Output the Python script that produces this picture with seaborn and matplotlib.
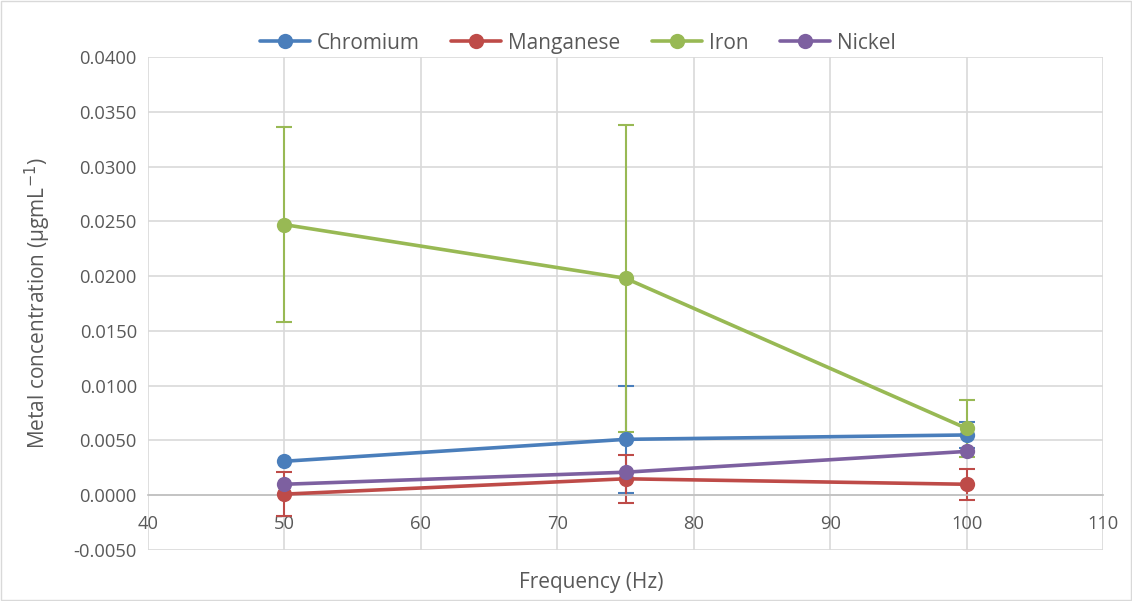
import matplotlib
matplotlib.use("Agg")
import matplotlib.pyplot as plt
import seaborn as sns
import pandas as pd
import numpy as np

frequency = [50, 75, 100]
metals = ["Chromium", "Manganese", "Iron", "Nickel"]
chromium = [0.0031, 0.0051, 0.0055]
chromium_err = [0.0, 0.0049, 0.0012]
manganese = [0.0001, 0.0015, 0.0010]
manganese_err = [0.0020, 0.0022, 0.0014]
iron = [0.0247, 0.0198, 0.0061]
iron_err = [0.0089, 0.0140, 0.0026]
nickel = [0.0010, 0.0021, 0.0040]
nickel_err = [0.0, 0.0, 0.0]

colors = ["#4A7EBB", "#BE4B48", "#98B954", "#7D60A0"]

values = {"Chromium": chromium, "Manganese": manganese, "Iron": iron, "Nickel": nickel}
errors = {"Chromium": chromium_err, "Manganese": manganese_err, "Iron": iron_err, "Nickel": nickel_err}

rows = []
for m in metals:
    for f, v, e in zip(frequency, values[m], errors[m]):
        rows.append({"Frequency": f, "Metal": m, "Value": v, "Err": e})
df = pd.DataFrame(rows)

sns.set_theme(style="white")
plt.rcParams['font.family'] = ['Open Sans', 'DejaVu Sans']

fig = plt.figure(figsize=(11.32, 6.01), dpi=100)
ax = fig.add_axes([148/1132, 1 - 550/601, (1103-148)/1132, (550-57)/601])

# error bars first (behind lines)
for m, c in zip(metals, colors):
    sub = df[df.Metal == m]
    mask = sub.Err > 0
    ax.errorbar(sub.Frequency[mask], sub.Value[mask], yerr=sub.Err[mask], fmt='none',
                ecolor=c, elinewidth=1.5, capsize=6, capthick=1.5, zorder=2)

sns.lineplot(data=df, x="Frequency", y="Value", hue="Metal", hue_order=metals,
             palette=colors, marker="o", markersize=11, markeredgewidth=0,
             linewidth=2.6, ax=ax, zorder=3, legend=True)

ax.set_xlim(40, 110)
ax.set_ylim(-0.005, 0.04)
ax.set_xticks(np.arange(40, 111, 10))
ax.set_yticks(np.arange(-0.005, 0.0401, 0.005))
ax.set_yticklabels([f"{v:.4f}" for v in np.arange(-0.005, 0.0401, 0.005)])
ax.grid(True, color="#D9D9D9", linewidth=1.2)
ax.set_axisbelow(True)
for s in ["top", "right", "left"]:
    ax.spines[s].set_visible(False)
ax.spines["bottom"].set_position(("data", 0))
ax.spines["bottom"].set_color("#BFBFBF")
ax.spines["bottom"].set_linewidth(1.2)
ax.tick_params(axis="both", length=0, labelsize=13.2, labelcolor="#595959", pad=8)
ax.tick_params(axis="x", pad=14)

ax.set_xlabel("Frequency (Hz)", fontsize=15, color="#595959")
ax.xaxis.set_label_coords(0.464, -0.044)
ax.set_ylabel("Metal concentration (µgmL$^{-1}$)", fontsize=15, color="#595959")
ax.yaxis.set_label_coords(-0.099, 0.5)

handles, labels = ax.get_legend_handles_labels()
leg = ax.legend(handles, labels, loc="lower center", bbox_to_anchor=(0.45, 0.99), ncol=4,
                frameon=False, fontsize=15, handlelength=2.4, columnspacing=1.55,
                handletextpad=0.3, borderaxespad=0)
for t in leg.get_texts():
    t.set_color("#595959")

fig.patches.append(plt.Rectangle((0.001, 0.001), 0.998, 0.998, transform=fig.transFigure,
                                 fill=False, edgecolor="#D9D9D9", linewidth=1))

fig.savefig("out.png", dpi=100)
